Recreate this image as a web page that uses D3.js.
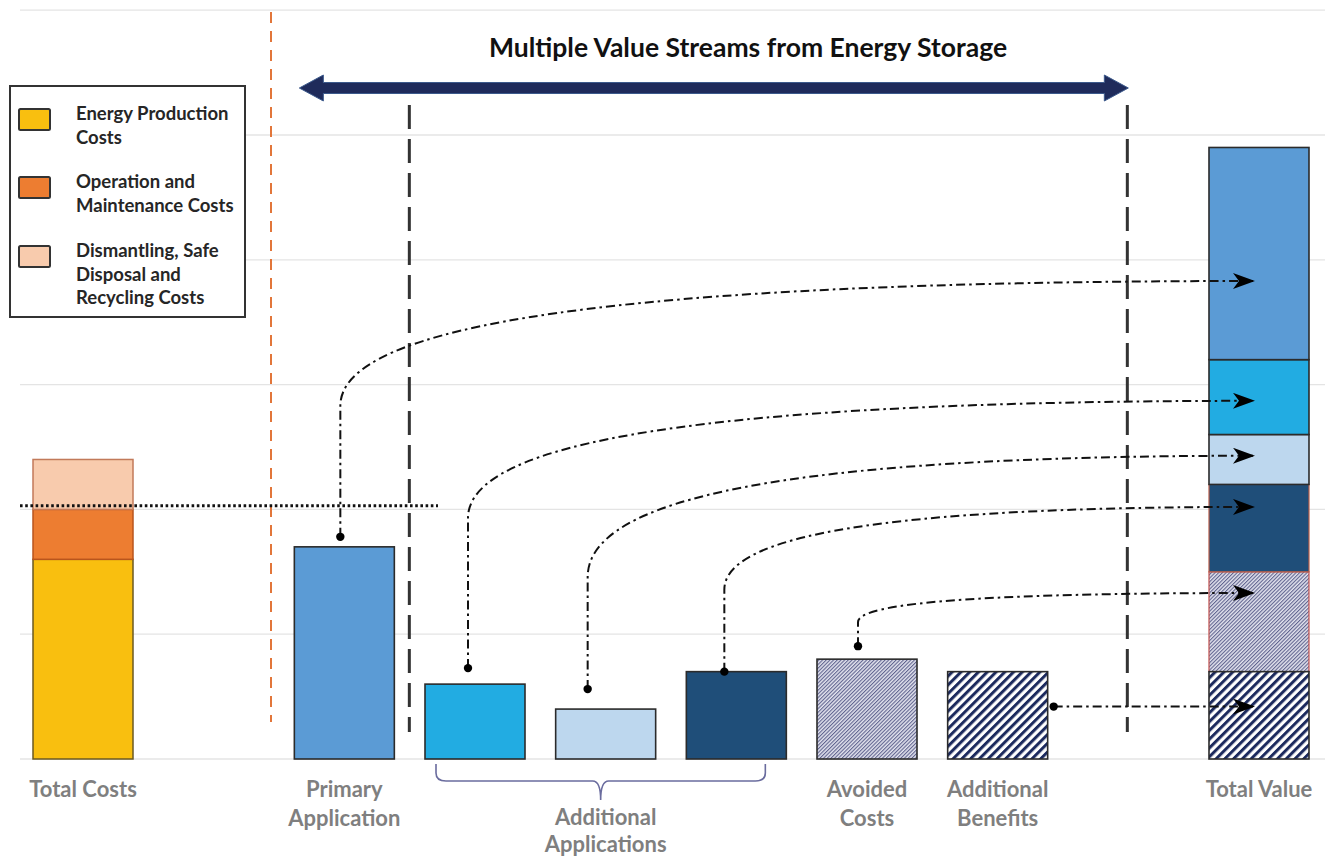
<!DOCTYPE html>
<html>
<head>
<meta charset="utf-8">
<script src="https://cdn.jsdelivr.net/npm/d3@7"></script>
<style>
  html, body { margin: 0; padding: 0; background: #ffffff; }
  svg { display: block; font-family: Lato, "Open Sans", sans-serif; }
</style>
</head>
<body>
<svg id="chart" width="1325" height="857"></svg>
<script>
// ---- data ----
const costLabels = ["Energy Production Costs", "Operation and Maintenance Costs", "Dismantling, Safe Disposal and Recycling Costs"];
const costValues = [1.6, 0.4, 0.4];

const streamKeys = ["Primary Application", "Additional Application 1", "Additional Application 2", "Additional Application 3", "Avoided Costs", "Additional Benefits"];
const streamValues = [1.7, 0.6, 0.4, 0.7, 0.8, 0.7];

// where each value stream enters the Total Value column (same units as values)
const arrowLevels = [3.83, 2.87, 2.43, 2.02, 1.33, 0.42];

// reference level drawn as the dotted line across the cost side
const costReference = 2.03;

const gridTicks = [0, 1, 2, 3, 4, 5, 6];

const slotKeys = ["Total Costs", "spacerLeft", ...streamKeys, "spacerRight", "Total Value"];

const axisLabels = [
  { key: "Total Costs", lines: ["Total Costs"] },
  { key: "Primary Application", lines: ["Primary", "Application"] },
  { key: "Avoided Costs", lines: ["Avoided", "Costs"] },
  { key: "Additional Benefits", lines: ["Additional", "Benefits"] },
  { key: "Total Value", lines: ["Total Value"] }
];
const groupLabel = ["Additional", "Applications"];
const legendLines = [["Energy Production", "Costs"], ["Operation and", "Maintenance Costs"], ["Dismantling, Safe", "Disposal and", "Recycling Costs"]];
const titleText = "Multiple Value Streams from Energy Storage";

// ---- styles ----
const costFill = ["#f9bf0f", "#ed7d31", "#f8cbad"];
const costStroke = ["#6b5a22", "#b9541c", "#c27a5a"];
const streamFill = ["#5b9bd5", "#22ace2", "#bdd7ee", "#1f4e79", "url(#hatchFine)", "url(#hatchWide)"];
const stackStroke = ["#2b2b2b", "#2b2b2b", "#2b2b2b", "#b85e4a", "#c0504d", "#2b2b2b"];

const svg = d3.select("#chart");
const W = 1325, H = 857;

const y = d3.scaleLinear().domain([0, 6]).range([759, 10.2]);
const x = d3.scaleBand().domain(slotKeys).range([17.67, 1324.33]).paddingInner(0.2347).paddingOuter(0.2347 / 2);
const bw = x.bandwidth();
const cx = k => x(k) + bw / 2;

// ---- defs: hatches and arrowhead ----
const defs = svg.append("defs");
const pw = defs.append("pattern").attr("id", "hatchWide").attr("patternUnits", "userSpaceOnUse")
  .attr("width", 6.2).attr("height", 6.2).attr("patternTransform", "rotate(45)");
pw.append("rect").attr("width", 6.2).attr("height", 6.2).attr("fill", "#ffffff");
pw.append("rect").attr("width", 3).attr("height", 6.2).attr("fill", "#1c2a5e");

const pf = defs.append("pattern").attr("id", "hatchFine").attr("patternUnits", "userSpaceOnUse")
  .attr("width", 2.6).attr("height", 2.6).attr("patternTransform", "rotate(45)");
pf.append("rect").attr("width", 2.6).attr("height", 2.6).attr("fill", "#e2e3ee");
pf.append("rect").attr("width", 1.1).attr("height", 2.6).attr("fill", "#60648f");

defs.append("marker").attr("id", "head").attr("markerUnits", "userSpaceOnUse")
  .attr("viewBox", "0 0 22 16").attr("markerWidth", 22).attr("markerHeight", 16)
  .attr("refX", 20).attr("refY", 8).attr("orient", "auto")
  .append("path").attr("d", "M0,0 L22,8 L0,16 L6,8 Z").attr("fill", "#000");

// ---- gridlines ----
svg.append("g").selectAll("line").data(gridTicks).join("line")
  .attr("x1", 20).attr("x2", W).attr("y1", d => y(d)).attr("y2", d => y(d))
  .attr("stroke", "#e4e4e4").attr("stroke-width", 1.3);

// ---- divider lines ----
svg.append("line").attr("x1", 271).attr("x2", 271).attr("y1", 12).attr("y2", 722)
  .attr("stroke", "#e2763a").attr("stroke-width", 2).attr("stroke-dasharray", "11,8");

const streamStart = x("Primary Application") + bw + 15;
const streamEnd = cx("spacerRight") - 1;
[streamStart, streamEnd].forEach(xx => {
  svg.append("line").attr("x1", xx).attr("x2", xx).attr("y1", 105).attr("y2", 732)
    .attr("stroke", "#333").attr("stroke-width", 3).attr("stroke-dasharray", "24,10");
});

// ---- Total Costs stack ----
let acc = 0;
const costStack = costValues.map((v, i) => { const s = { i, y0: acc, y1: acc + v }; acc += v; return s; });
svg.append("g").selectAll("rect").data(costStack).join("rect")
  .attr("x", x("Total Costs")).attr("width", bw)
  .attr("y", d => y(d.y1)).attr("height", d => y(d.y0) - y(d.y1))
  .attr("fill", d => costFill[d.i]).attr("stroke", d => costStroke[d.i]).attr("stroke-width", 1.5);

// ---- individual value streams ----
svg.append("g").selectAll("rect").data(streamKeys).join("rect")
  .attr("x", k => x(k)).attr("width", bw)
  .attr("y", (k, i) => y(streamValues[i])).attr("height", (k, i) => y(0) - y(streamValues[i]))
  .attr("fill", (k, i) => streamFill[i]).attr("stroke", "#2b2b2b").attr("stroke-width", 1.6);

// ---- Total Value stack (bottom-up: benefits, avoided, app3, app2, app1, primary) ----
const stackOrder = [5, 4, 3, 2, 1, 0];
acc = 0;
const valueStack = stackOrder.map(i => { const s = { i, y0: acc, y1: acc + streamValues[i] }; acc += streamValues[i]; return s; });
const drawOrder = valueStack.slice().sort((a, b) => (stackStroke[a.i] === "#2b2b2b") - (stackStroke[b.i] === "#2b2b2b"));
svg.append("g").selectAll("rect").data(drawOrder).join("rect")
  .attr("x", x("Total Value")).attr("width", bw)
  .attr("y", d => y(d.y1)).attr("height", d => y(d.y0) - y(d.y1))
  .attr("fill", d => streamFill[d.i]).attr("stroke", d => stackStroke[d.i])
  .attr("stroke-width", d => stackStroke[d.i] === "#2b2b2b" ? 1.6 : 1.2);

// ---- dotted cost reference ----
svg.append("line").attr("x1", 20).attr("x2", 438).attr("y1", y(costReference)).attr("y2", y(costReference))
  .attr("stroke", "#111").attr("stroke-width", 3).attr("stroke-dasharray", "2.6,2.6");

// ---- connectors from each stream into Total Value ----
// dx: dot offset from bar centre, gap: dot height above bar top, rise: vertical run before the bend
const connectorLayout = [
  { dx: -4, gap: 10, rise: 131 },
  { dx: -7, gap: 16, rise: 150 },
  { dx: -18, gap: 20, rise: 112 },
  { dx: -12, gap: 0, rise: 82 },
  { dx: -9, gap: 13, rise: 24 }
];
const tipX = x("Total Value") + 44;
const conn = svg.append("g");
connectorLayout.forEach((c, i) => {
  const k = streamKeys[i];
  const x0 = cx(k) + c.dx, y0 = y(streamValues[i]) - c.gap;
  const yc = y0 - c.rise, yt = y(arrowLevels[i]);
  const path = d3.path();
  path.moveTo(x0, y0);
  path.lineTo(x0, yc);
  path.bezierCurveTo(x0, yc - 0.65 * (yc - yt), x0 + 0.3 * (tipX - x0), yt, tipX, yt);
  conn.append("path").attr("d", path.toString()).attr("fill", "none")
    .attr("stroke", "#111").attr("stroke-width", 2).attr("stroke-dasharray", "9,4,2.5,4")
    .attr("marker-end", "url(#head)");
  conn.append("circle").attr("cx", x0).attr("cy", y0).attr("r", 4.2).attr("fill", "#000");
});
// the benefits stream leaves from the side of its bar
{
  const i = 5, k = streamKeys[i];
  const x0 = x(k) + bw + 6, yy = y(arrowLevels[i]);
  conn.append("path").attr("d", `M${x0},${yy}H${tipX}`).attr("fill", "none")
    .attr("stroke", "#111").attr("stroke-width", 2).attr("stroke-dasharray", "9,4,2.5,4")
    .attr("marker-end", "url(#head)");
  conn.append("circle").attr("cx", x0).attr("cy", yy).attr("r", 4.2).attr("fill", "#000");
}

// ---- double-headed span arrow and title ----
const aL = x("Primary Application") + 5, aR = streamEnd + 1, ay = 88;
const head = 24, hh = 13, sh = 5.5;
svg.append("path")
  .attr("d", `M${aL},${ay} L${aL + head},${ay - hh} L${aL + head},${ay - sh} L${aR - head},${ay - sh} L${aR - head},${ay - hh} L${aR},${ay} L${aR - head},${ay + hh} L${aR - head},${ay + sh} L${aL + head},${ay + sh} L${aL + head},${ay + hh} Z`)
  .attr("fill", "#1f2b5b").attr("stroke", "#3c5a8c").attr("stroke-width", 1);

svg.append("text").attr("x", 748).attr("y", 57).attr("text-anchor", "middle")
  .attr("font-size", 26.5).attr("font-weight", 700).attr("fill", "#111").text(titleText);

// ---- legend ----
const lg = svg.append("g");
lg.append("rect").attr("x", 10).attr("y", 86).attr("width", 235).attr("height", 231)
  .attr("fill", "#fff").attr("stroke", "#333").attr("stroke-width", 2);
const legendTop = [109, 177, 246];
legendLines.forEach((lines, i) => {
  lg.append("rect").attr("x", 19).attr("y", legendTop[i]).attr("width", 31).attr("height", 21).attr("rx", 1.5)
    .attr("fill", costFill[i]).attr("stroke", "#333").attr("stroke-width", 2);
  const t = lg.append("text").attr("x", 76).attr("y", legendTop[i] + 11)
    .attr("font-size", 18.5).attr("font-weight", 700).attr("fill", "#262626");
  lines.forEach((ln, j) => t.append("tspan").attr("x", 76).attr("dy", j === 0 ? 0 : 23.5).text(ln));
});

// ---- category labels ----
const lab = svg.append("g").attr("font-size", 22).attr("font-weight", 700).attr("fill", "#7f7f7f").attr("text-anchor", "middle");
axisLabels.forEach(l => {
  const t = lab.append("text").attr("x", cx(l.key)).attr("y", 797);
  l.lines.forEach((ln, j) => t.append("tspan").attr("x", cx(l.key)).attr("dy", j === 0 ? 0 : 29).text(ln));
});

// brace under the three additional applications
const bL = x(streamKeys[1]) + 11, bR = x(streamKeys[3]) + bw - 21, bM = (bL + bR) / 2;
const bTop = 764, bMid = 781, bTip = 800;
svg.append("path")
  .attr("d", `M${bL},${bTop} V${bMid - 8} Q${bL},${bMid} ${bL + 10},${bMid} H${bM - 8} Q${bM},${bMid} ${bM},${bTip} Q${bM},${bMid} ${bM + 8},${bMid} H${bR - 10} Q${bR},${bMid} ${bR},${bMid - 8} V${bTop}`)
  .attr("fill", "none").attr("stroke", "#6a6c9e").attr("stroke-width", 1.6);
const gt = lab.append("text").attr("x", bM + 5).attr("y", 825);
groupLabel.forEach((ln, j) => gt.append("tspan").attr("x", bM + 5).attr("dy", j === 0 ? 0 : 27).text(ln));
</script>
</body>
</html>
